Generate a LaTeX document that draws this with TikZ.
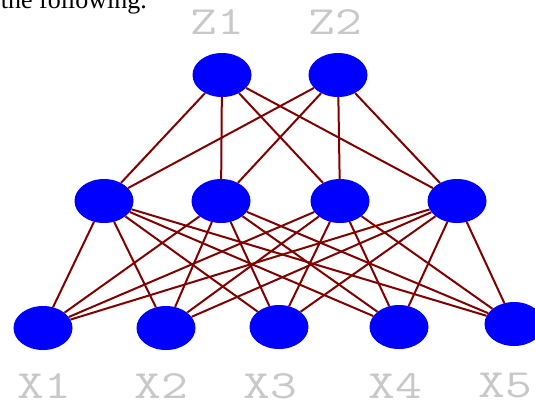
\documentclass[tikz,border=0pt]{standalone}
\usepackage{fontspec}
\setmainfont{Liberation Serif}
\usepackage{graphicx}
\usepackage{xcolor}
\definecolor{unitblue}{HTML}{0000FF}
\definecolor{wirered}{HTML}{800000}
\definecolor{labelgray}{HTML}{C8C8C8}
\usepackage{tikz}
\usetikzlibrary{shapes.geometric}
\newcommand{\widetag}[1]{\scalebox{1.3}[1]{#1}}

\begin{document}
\begin{tikzpicture}[x=1pt, y=-1pt,
  unit/.style={ellipse, fill=unitblue, minimum width=59pt, minimum height=44pt, inner sep=0pt},
  tag/.style={text=labelgray, font=\ttfamily\fontsize{40}{40}\selectfont, inner sep=0pt},
  wire/.style={draw=wirered, line width=2pt}
]
\useasboundingbox (0,0) rectangle (535,400);
\node[anchor=base east, inner sep=0pt, font=\fontsize{26}{26}\selectfont] (intro) at (147,8) {the following.};

% output units
\node[tag] (z1lab) at (217,22) {\widetag{Z1}};
\node[tag] (z2lab) at (335,22) {\widetag{Z2}};
\node[unit] (z1) at (222,75) {};
\node[unit] (z2) at (338,75) {};

% hidden units
\node[unit] (h1) at (104,201) {};
\node[unit] (h2) at (221,201) {};
\node[unit] (h3) at (340,201) {};
\node[unit] (h4) at (457,201) {};

% input units
\node[unit] (x1) at (43,328) {};
\node[unit] (x2) at (166,328) {};
\node[unit] (x3) at (279,327) {};
\node[unit] (x4) at (399,327) {};
\node[unit] (x5) at (514,324) {};
\node[tag] (x1lab) at (44,386) {\widetag{X1}};
\node[tag] (x2lab) at (161,386) {\widetag{X2}};
\node[tag] (x3lab) at (270,386) {\widetag{X3}};
\node[tag] (x4lab) at (395,386) {\widetag{X4}};
\node[tag] (x5lab) at (505,386) {\widetag{X5}};

% top connections
\draw[wire] (z1) -- (h1) (z1) -- (h2) (z1) -- (h3) (z1) -- (h4);
\draw[wire] (z2) -- (h1) (z2) -- (h2) (z2) -- (h3) (z2) -- (h4);

% bottom connections
\draw[wire] (h1) -- (x1) (h1) -- (x2) (h1) -- (x3) (h1) -- (x4) (h1) -- (x5);
\draw[wire] (h2) -- (x1) (h2) -- (x2) (h2) -- (x3) (h2) -- (x4) (h2) -- (x5);
\draw[wire] (h3) -- (x1) (h3) -- (x2) (h3) -- (x3) (h3) -- (x4) (h3) -- (x5);
\draw[wire] (h4) -- (x1) (h4) -- (x2) (h4) -- (x3) (h4) -- (x4) (h4) -- (x5);
\end{tikzpicture}
\end{document}
